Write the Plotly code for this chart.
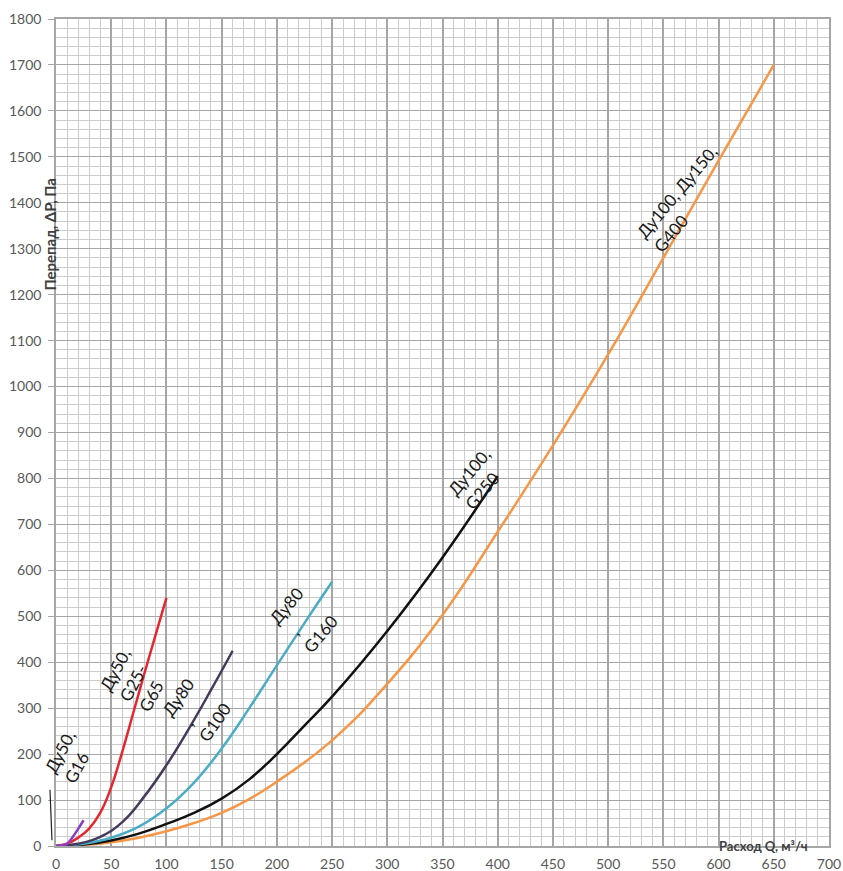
import plotly.graph_objects as go

# ---- data ----
q_g16 = [0, 5, 10, 15, 20, 25]
p_g16 = [0, 1, 5, 19, 37, 56]

q_g65 = [0, 10, 20, 30, 40, 50, 60, 70, 80, 90, 100]
p_g65 = [0, 5, 18, 38, 72, 128, 205, 290, 375, 458, 540]

q_g100 = [0, 20, 40, 60, 80, 100, 120, 140, 160]
p_g100 = [0, 5, 20, 52, 108, 176, 254, 338, 425]

q_g160 = [0, 25, 50, 75, 100, 125, 150, 175, 200, 225, 250]
p_g160 = [0, 5, 18, 42, 82, 138, 212, 300, 393, 485, 575]

q_g250 = [0, 25, 50, 75, 100, 125, 150, 175, 200, 225, 250, 300, 350, 400]
p_g250 = [0, 3, 12, 27, 48, 72, 103, 145, 200, 262, 325, 468, 628, 805]

q_g400 = [0, 25, 50, 75, 100, 125, 150, 175, 200, 250, 300, 350, 400, 450, 500, 550, 600, 650]
p_g400 = [0, 2, 8, 18, 32, 50, 72, 102, 140, 230, 353, 503, 684, 872, 1070, 1280, 1492, 1700]

series = [
    ("Ду100, Ду150, G400", q_g400, p_g400, "#f79646"),
    ("Ду100, G250", q_g250, p_g250, "#111111"),
    ("Ду80, G160", q_g160, p_g160, "#4bacc6"),
    ("Ду80, G100", q_g100, p_g100, "#463a5c"),
    ("Ду50, G25-G65", q_g65, p_g65, "#e8262e"),
    ("Ду50, G16", q_g16, p_g16, "#8a3fc4"),
]

labels = [
    ("Ду50,<br>G16", 12.5, 195, -62),
    ("Ду50,<br>G25-<br>G65", 71.5, 362, -62),
    ("Ду80<br> ,<br>G100", 127, 298, -55),
    ("Ду80<br> ,<br>G160", 224, 494, -50),
    ("Ду100,<br>G250", 382, 800, -50),
    ("Ду100, Ду150,<br>G400", 570, 1410, -50),
]

x_ticks = list(range(0, 701, 50))
y_ticks = list(range(0, 1801, 100))

x_title = "Расход Q, м³/ч"
y_title = "Перепад, ΔP, Па"

FONT = "Lato, 'Open Sans', sans-serif"

fig = go.Figure()
for name, q, p, c in series:
    fig.add_trace(go.Scatter(
        x=q, y=p, mode="lines", name=name,
        line=dict(color=c, width=2.5, shape="spline", smoothing=1.3),
        showlegend=False, hoverinfo="x+y+name",
    ))

for txt, qx, py, ang in labels:
    fig.add_annotation(
        x=qx, y=py, xref="x", yref="y", text=txt, showarrow=False,
        textangle=ang, align="left", xanchor="center", yanchor="middle",
        font=dict(family=FONT, size=17, color="#1a1a1a"),
    )

# axis titles
fig.add_annotation(
    x=0, xref="paper", xshift=-6, y=1331, yref="y", text=y_title,
    showarrow=False, textangle=-90, xanchor="center", yanchor="middle",
    font=dict(family=FONT, size=15, color="#404040", weight="bold"),
)
fig.add_annotation(
    x=683, xref="x", y=0, yref="paper", yshift=0, text=x_title,
    showarrow=False, xanchor="right", yanchor="middle",
    font=dict(family=FONT, size=13, color="#404040", weight="bold"),
)

# small leader stroke left of the axis (artifact in the reference)
fig.add_shape(type="line", xref="paper", yref="paper",
              x0=-0.0078, y0=0.068, x1=-0.0052, y1=0.007,
              line=dict(color="#222222", width=1.2))

major = "#a6a6a6"
minor = "#cccccc"

fig.update_xaxes(
    range=[0, 700], tickvals=x_ticks, ticks="", showline=True, linecolor=major,
    linewidth=1.5, mirror=True, automargin=False,
    showgrid=True, gridcolor=major, gridwidth=1.6, zeroline=False,
    minor=dict(dtick=10, showgrid=True, gridcolor=minor, gridwidth=1),
    tickfont=dict(family=FONT, size=14, color="#595959"),
    ticklabelstandoff=4,
)
fig.update_yaxes(
    range=[0, 1800], tickvals=y_ticks, ticks="outside", ticklen=6,
    tickcolor=major, showline=True, linecolor=major, linewidth=1.5, mirror=True,
    automargin=False,
    showgrid=True, gridcolor=major, gridwidth=1.2, zeroline=False,
    minor=dict(dtick=20, showgrid=True, gridcolor=minor, gridwidth=1),
    tickfont=dict(family=FONT, size=14, color="#595959"),
    ticklabelstandoff=4,
)

fig.update_layout(
    width=843, height=871,
    margin=dict(l=56, r=14, t=19, b=25),
    paper_bgcolor="white", plot_bgcolor="white",
    font=dict(family=FONT),
)

fig.write_html("out.html", config={"displayModeBar": False},
               post_script="document.body.style.margin='0px';")
